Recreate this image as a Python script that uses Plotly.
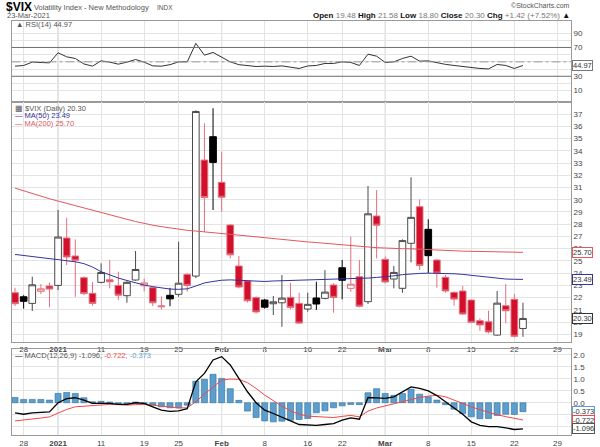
import plotly.graph_objects as go

W, H = 600, 447

dates = [
    "2020-12-24", "2020-12-28", "2020-12-29", "2020-12-30", "2020-12-31",
    "2021-01-04", "2021-01-05", "2021-01-06", "2021-01-07", "2021-01-08",
    "2021-01-11", "2021-01-12", "2021-01-13", "2021-01-14", "2021-01-15",
    "2021-01-19", "2021-01-20", "2021-01-21", "2021-01-22", "2021-01-25",
    "2021-01-26", "2021-01-27", "2021-01-28", "2021-01-29", "2021-02-01",
    "2021-02-02", "2021-02-03", "2021-02-04", "2021-02-05", "2021-02-08",
    "2021-02-09", "2021-02-10", "2021-02-11", "2021-02-12", "2021-02-16",
    "2021-02-17", "2021-02-18", "2021-02-19", "2021-02-22", "2021-02-23",
    "2021-02-24", "2021-02-25", "2021-02-26", "2021-03-01", "2021-03-02",
    "2021-03-03", "2021-03-04", "2021-03-05", "2021-03-08", "2021-03-09",
    "2021-03-10", "2021-03-11", "2021-03-12", "2021-03-15", "2021-03-16",
    "2021-03-17", "2021-03-18", "2021-03-19", "2021-03-22", "2021-03-23",
]
# sessions after the last bar, only needed to place the "29" tick
future_sessions = ["2021-03-24", "2021-03-25", "2021-03-26", "2021-03-29"]

opens = [
    22.40, 22.07, 21.53, 22.52, 22.95, 23.00, 26.87, 25.40, 23.63, 22.35,
    23.25, 23.46, 23.00, 22.16, 23.44, 22.97, 22.81, 21.25, 22.19, 22.27,
    23.90, 23.76, 33.24, 35.15, 31.42, 27.93, 24.58, 23.36, 22.00, 21.80,
    21.50, 21.58, 22.02, 21.53, 21.07, 21.97, 21.94, 23.03, 24.44, 22.76,
    23.71, 21.67, 28.67, 25.13, 23.52, 22.76, 26.44, 29.43, 27.58, 25.07,
    23.66, 22.43, 22.54, 21.80, 20.11, 20.03, 18.94, 21.34, 21.86, 19.48,
]
highs = [
    22.81, 22.20, 23.71, 23.11, 23.22, 29.16, 28.53, 26.76, 23.75, 23.27,
    24.80, 25.07, 24.12, 23.35, 25.81, 23.55, 22.90, 22.10, 22.80, 26.57,
    24.00, 37.30, 36.24, 37.47, 33.92, 28.00, 25.40, 23.40, 22.10, 21.90,
    22.13, 23.85, 23.22, 22.40, 22.40, 23.30, 24.25, 23.17, 25.07, 26.98,
    25.07, 31.12, 30.79, 25.35, 24.58, 26.76, 31.83, 30.03, 28.40, 25.15,
    23.85, 22.50, 22.95, 21.85, 20.31, 20.93, 22.54, 23.11, 22.29, 21.58,
]
lows = [
    21.31, 21.10, 20.91, 22.29, 21.21, 22.62, 24.66, 22.07, 22.20, 21.34,
    23.17, 22.76, 21.80, 21.58, 23.38, 22.50, 21.31, 21.05, 21.30, 22.07,
    22.50, 23.60, 27.38, 29.16, 29.02, 25.21, 22.76, 21.60, 20.70, 21.10,
    20.58, 19.62, 21.04, 19.85, 20.85, 20.99, 21.86, 20.77, 21.86, 22.48,
    21.20, 21.48, 25.21, 23.17, 22.76, 22.40, 24.88, 24.25, 23.99, 22.81,
    22.40, 21.34, 20.58, 19.90, 19.30, 19.08, 18.89, 19.90, 18.75, 18.80,
]
closes = [
    21.50, 21.70, 23.05, 22.72, 22.70, 26.95, 25.32, 25.05, 22.33, 21.53,
    24.05, 23.30, 22.20, 23.25, 24.30, 23.20, 21.58, 21.32, 21.90, 23.18,
    23.00, 37.21, 30.18, 33.05, 30.20, 25.50, 22.87, 21.74, 20.83, 21.22,
    21.66, 21.96, 21.20, 19.92, 21.45, 21.48, 22.45, 22.02, 23.42, 23.10,
    21.30, 28.85, 27.92, 23.28, 24.06, 26.66, 28.56, 24.63, 25.43, 24.01,
    22.55, 21.88, 20.66, 19.98, 19.77, 19.20, 21.55, 20.93, 18.84, 20.30,
]
ma50 = [
    25.53, 25.45, 25.37, 25.29, 25.21, 25.13, 25.05, 24.93, 24.78, 24.50,
    24.12, 23.85, 23.60, 23.40, 23.20, 23.03, 22.90, 22.78, 22.70, 22.68,
    22.72, 22.95, 23.20, 23.32, 23.42, 23.45, 23.42, 23.40, 23.35, 23.32,
    23.36, 23.38, 23.38, 23.40, 23.42, 23.44, 23.45, 23.47, 23.49, 23.52,
    23.55, 23.60, 23.65, 23.70, 23.78, 23.88, 23.96, 23.98, 24.00, 24.00,
    23.98, 23.95, 23.90, 23.82, 23.72, 23.64, 23.57, 23.52, 23.50, 23.49,
]
ma200 = [
    30.95, 30.72, 30.50, 30.28, 30.08, 29.89, 29.70, 29.52, 29.35, 29.10,
    28.93, 28.75, 28.55, 28.40, 28.22, 28.05, 27.92, 27.80, 27.68, 27.57,
    27.50, 27.44, 27.38, 27.32, 27.26, 27.20, 27.12, 27.03, 26.97, 26.90,
    26.82, 26.74, 26.67, 26.60, 26.55, 26.50, 26.45, 26.40, 26.32, 26.27,
    26.20, 26.14, 26.08, 26.04, 26.02, 26.00, 25.99, 25.97, 25.94, 25.90,
    25.86, 25.83, 25.80, 25.78, 25.75, 25.73, 25.72, 25.71, 25.70, 25.70,
]
rsi = [
    44.0, 45.0, 49.6, 49.2, 48.6, 62.6, 57.0, 54.7, 47.1, 44.0,
    51.4, 49.6, 46.8, 49.6, 53.3, 49.6, 44.4, 44.0, 46.1, 50.0,
    50.0, 75.7, 59.3, 63.1, 57.0, 50.0, 46.1, 44.4, 43.6, 44.0,
    43.6, 44.4, 43.0, 40.8, 44.3, 45.0, 47.8, 47.8, 50.0, 49.2,
    45.0, 60.7, 57.9, 49.2, 50.0, 54.7, 57.9, 51.0, 51.4, 48.6,
    46.5, 45.0, 43.3, 41.5, 40.8, 40.2, 46.4, 45.0, 40.8, 44.97,
]
macd = [
    -0.42, -0.48, -0.42, -0.41, -0.38, 0.00, 0.17, 0.21, 0.11, -0.03,
    -0.03, -0.03, -0.07, -0.07, 0.00, -0.03, -0.17, -0.31, -0.36, -0.34,
    -0.25, 0.88, 1.23, 1.79, 1.93, 1.58, 1.02, 0.46, 0.00, -0.31,
    -0.45, -0.59, -0.76, -0.91, -0.94, -0.95, -0.91, -0.87, -0.73, -0.63,
    -0.69, 0.22, 0.20, 0.18, 0.25, 0.45, 0.66, 0.60, 0.50, 0.30,
    0.05, -0.22, -0.48, -0.80, -0.95, -1.00, -1.00, -1.05, -1.12, -1.096,
]
signal = [
    -0.76, -0.73, -0.69, -0.64, -0.59, -0.42, -0.28, -0.17, -0.14, -0.11,
    -0.10, -0.07, -0.08, -0.10, -0.08, -0.07, -0.10, -0.14, -0.20, -0.22,
    -0.21, 0.04, 0.36, 0.67, 0.95, 0.99, 0.98, 0.84, 0.60, 0.32,
    0.08, -0.14, -0.34, -0.48, -0.56, -0.59, -0.62, -0.62, -0.57, -0.53,
    -0.59, -0.35, -0.22, -0.13, -0.03, 0.04, 0.14, 0.22, 0.28, 0.31,
    0.25, 0.11, -0.05, -0.17, -0.29, -0.40, -0.50, -0.58, -0.65, -0.722,
]
hist = [
    0.22, 0.14, 0.14, 0.14, 0.11, 0.39, 0.43, 0.39, 0.21, 0.04,
    0.06, 0.03, -0.03, -0.04, 0.03, -0.03, -0.10, -0.17, -0.21, -0.21,
    -0.10, 0.90, 0.98, 1.19, 1.02, 0.59, 0.10, -0.35, -0.62, -0.76,
    -0.80, -0.77, -0.73, -0.70, -0.66, -0.42, -0.34, -0.21, -0.13, -0.07,
    -0.08, 0.42, 0.59, 0.39, 0.31, 0.39, 0.57, 0.36, 0.25, 0.11,
    -0.08, -0.27, -0.45, -0.59, -0.67, -0.66, -0.53, -0.48, -0.49, -0.373,
]

tick_dates = [
    "2020-12-28", "2021-01-04", "2021-01-11", "2021-01-19", "2021-01-25",
    "2021-02-01", "2021-02-08", "2021-02-16", "2021-02-22", "2021-03-01",
    "2021-03-08", "2021-03-15", "2021-03-22", "2021-03-29",
]
tick_labels = [
    "28", "<b>2021</b>", "11", "19", "25", "<b>Feb</b>", "8", "16", "22",
    "<b>Mar</b>", "8", "15", "22", "29",
]
month_dates = ["2021-01-04", "2021-02-01", "2021-03-01"]

rsi_ticks = [10, 20, 30, 40, 50, 60, 70, 80, 90]
price_ticks = list(range(19, 38))
macd_ticks = [-1.0, -0.5, 0.0, 0.5, 1.0, 1.5, 2.0]

FONT = "Liberation Sans, Arial, sans-serif"
GRID = "#e4e4e4"
FRAME = "#9a9a9a"
RED = "#d3102c"
RED_EDGE = "#e2707e"
MA50_COLOR = "#33339a"
MA200_COLOR = "#e2575c"
HIST_COLOR = "#5c9fce"


def px(x):
    return x / W


def py(y):
    return 1 - y / H


sessions = dates + future_sessions
xs = list(range(len(dates)))
tick_vals = [sessions.index(d) for d in tick_dates]
month_vals = [sessions.index(d) for d in month_dates]

X_DOMAIN = [px(11.5), px(571)]
X_RANGE = [-0.41, 64.58]

# StockCharts colouring: hollow = close above open, red = close below previous close
candle_styles = {
    "up_black": ("#4a4a4a", "#ffffff"),
    "down_black": ("#000000", "#000000"),
    "down_red": (RED_EDGE, RED),
    "up_red": (RED_EDGE, "#ffffff"),
}
groups = {key: [] for key in candle_styles}
for i in xs:
    prev = closes[i - 1] if i else opens[i]
    kind = "up_" if closes[i] >= opens[i] else "down_"
    kind += "red" if closes[i] < prev else "black"
    groups[kind].append(i)

fig = go.Figure()

fig.add_trace(go.Scatter(x=xs, y=rsi, mode="lines", line=dict(color="#333333", width=1), xaxis="x", yaxis="y"))

for kind, idx in groups.items():
    line_color, fill_color = candle_styles[kind]
    style = dict(line=dict(color=line_color, width=1), fillcolor=fill_color)
    fig.add_trace(go.Candlestick(
        x=idx,
        open=[opens[i] for i in idx],
        high=[highs[i] for i in idx],
        low=[lows[i] for i in idx],
        close=[closes[i] for i in idx],
        increasing=style,
        decreasing=style,
        whiskerwidth=0,
        xaxis="x2",
        yaxis="y2",
    ))

fig.add_trace(go.Scatter(x=xs, y=ma200, mode="lines", line=dict(color=MA200_COLOR, width=1), xaxis="x2", yaxis="y2"))
fig.add_trace(go.Scatter(x=xs, y=ma50, mode="lines", line=dict(color=MA50_COLOR, width=1), xaxis="x2", yaxis="y2"))

fig.add_trace(go.Bar(x=xs, y=hist, marker=dict(color=HIST_COLOR, line=dict(color="#2f6d99", width=0.6)), xaxis="x3", yaxis="y3"))
fig.add_trace(go.Scatter(x=xs, y=signal, mode="lines", line=dict(color="#f04848", width=1), xaxis="x3", yaxis="y3"))
fig.add_trace(go.Scatter(x=xs, y=macd, mode="lines", line=dict(color="#000000", width=1.3), xaxis="x3", yaxis="y3"))


def x_axis(anchor, labels):
    return dict(
        domain=X_DOMAIN, anchor=anchor, range=X_RANGE,
        tickvals=tick_vals, ticktext=tick_labels, showticklabels=labels,
        tickfont=dict(size=8, color="#444444"), ticks="",
        showgrid=True, gridcolor=GRID, zeroline=False,
        showline=True, linecolor=FRAME, mirror=True,
    )


def y_axis(anchor, domain, rng, ticks, text):
    return dict(
        domain=domain, anchor=anchor, range=rng, side="right",
        tickvals=ticks, ticktext=text, tickfont=dict(size=8, color="#444444"), ticks="",
        showgrid=True, gridcolor=GRID, zeroline=False,
        showline=True, linecolor=FRAME, mirror=True,
    )


xaxis2 = x_axis("y2", True)
xaxis2["rangeslider"] = dict(visible=False)

fig.update_layout(
    width=W, height=H,
    margin=dict(l=0, r=0, t=0, b=0),
    paper_bgcolor="white", plot_bgcolor="white",
    font=dict(family=FONT, size=8, color="#444444"),
    showlegend=False, bargap=0.3, hovermode=False,
    boxgap=0.12, boxgroupgap=0.12,
    xaxis=x_axis("y", False),
    xaxis2=xaxis2,
    xaxis3=x_axis("y3", True),
    yaxis=y_axis("x", [py(102.3), py(20.7)], [-6.2, 107.2], rsi_ticks,
                 [str(t) if t % 20 == 10 else "" for t in rsi_ticks]),
    yaxis2=y_axis("x2", [py(341.7), py(102.3)], [18.4, 37.96], price_ticks, [str(t) for t in price_ticks]),
    yaxis3=y_axis("x3", [py(435), py(349)], [-1.35, 2.25], macd_ticks, [f"{t:.1f}" for t in macd_ticks]),
)

# RSI guide lines
for level, color, dash in [(70, "#707070", "solid"), (30, "#707070", "solid"), (50, "#9a9a9a", "dashdot")]:
    fig.add_shape(type="line", xref="x domain", yref="y", x0=0, x1=1, y0=level, y1=level,
                  line=dict(color=color, width=1, dash=dash))

# darker month separators
for xr, yr in [("x", "y domain"), ("x2", "y2 domain"), ("x3", "y3 domain")]:
    for m in month_vals:
        fig.add_shape(type="line", xref=xr, yref=yr, x0=m, x1=m, y0=0, y1=1,
                      line=dict(color="#c4c4c4", width=1), layer="below")


def note(text, x, y, size=8, color="#444444", anchor="left", **kw):
    fig.add_annotation(text=text, x=px(x), y=py(y), xref="paper", yref="paper",
                       xanchor=anchor, yanchor="middle", showarrow=False,
                       font=dict(size=size, color=color, family=FONT), **kw)


# header
note("<b>$VIX</b>", 4, 7, size=12, color="#000000")
note("Volatility Index - New Methodology", 32, 7.5, size=7.5, color="#555555")
note("INDX", 155, 7.5, size=6.5, color="#555555")
note("23-Mar-2021", 5, 16, size=7.5, color="#555555")
note("©StockCharts.com", 572, 5.5, size=7, color="#555555", anchor="right")
note("<b>Open</b> <span style='color:#777'>19.48</span> <b>High</b> <span style='color:#777'>21.58</span> "
     "<b>Low</b> <span style='color:#777'>18.80</span> <b>Close</b> <span style='color:#777'>20.30</span> "
     "<b>Chg</b> <span style='color:#777'>+1.42 (+7.52%)</span> ▲",
     572, 15.5, size=8, color="#111111", anchor="right")

# panel legends
note(f"▲ RSI(14) {rsi[-1]:.2f}", 14, 25, size=7.5, color="#555555")
note(f"▦ $VIX (Daily) {closes[-1]:.2f}", 13, 108.5, size=7.5, color="#555555")
note(f"<span style='color:{MA50_COLOR}'>— MA(50) {ma50[-1]:.2f}</span>", 13, 116, size=7.5)
note(f"<span style='color:{MA200_COLOR}'>— MA(200) {ma200[-1]:.2f}</span>", 13, 123.5, size=7.5)
note(f"<span style='color:#000'>—</span> MACD(12,26,9) {macd[-1]:.3f}, "
     f"<span style='color:#f04848'>{signal[-1]:.3f},</span> "
     f"<span style='color:{HIST_COLOR}'>{hist[-1]:.3f}</span>", 13, 355.5, size=7.5, color="#555555")


def value_box(value, yref, border, fmt):
    fig.add_annotation(text=fmt.format(value), x=px(572), y=value, xref="paper", yref=yref,
                       xanchor="left", yanchor="middle", showarrow=False,
                       font=dict(size=7.5, color="#333333", family=FONT),
                       bgcolor="white", bordercolor=border, borderwidth=1, borderpad=0)


value_box(rsi[-1], "y", "#777777", "{:.2f}")
value_box(ma200[-1], "y2", MA200_COLOR, "{:.2f}")
value_box(ma50[-1], "y2", MA50_COLOR, "{:.2f}")
value_box(closes[-1], "y2", "#333333", "{:.2f}")
value_box(hist[-1], "y3", HIST_COLOR, "{:.3f}")
value_box(signal[-1], "y3", "#f04848", "{:.3f}")
value_box(macd[-1], "y3", "#555555", "{:.3f}")

fig.write_html("out.html", config={"displayModeBar": False},
               post_script="document.body.style.margin='0';")
